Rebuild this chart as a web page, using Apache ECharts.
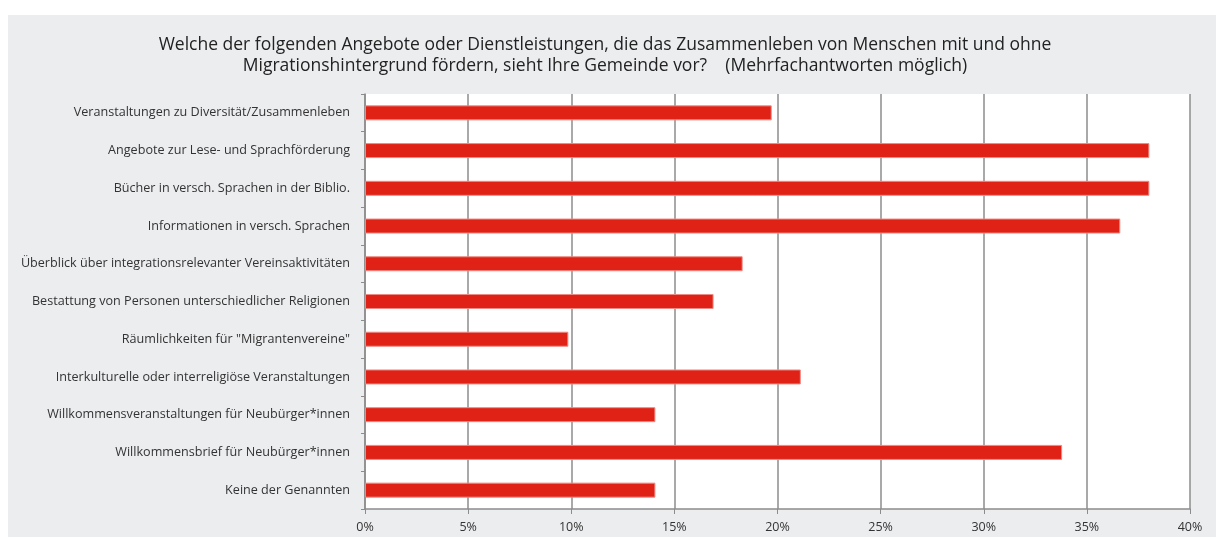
<!DOCTYPE html>
<html>
<head>
<meta charset="utf-8">
<script src="https://cdn.jsdelivr.net/npm/echarts@6/dist/echarts.min.js"></script>
<style>
  html, body { margin: 0; padding: 0; background: #fff; }
  .page { position: relative; width: 1216px; height: 537px; }
  #chart { position: absolute; left: 8px; top: 15px; width: 1208px; height: 522px; background: #ecedef; }
</style>
</head>
<body>
<div class="page"><div id="chart"></div></div>
<script>
const categories = [
  'Veranstaltungen zu Diversität/Zusammenleben',
  'Angebote zur Lese- und Sprachförderung',
  'Bücher in versch. Sprachen in der Biblio.',
  'Informationen in versch. Sprachen',
  'Überblick über integrationsrelevanter Vereinsaktivitäten',
  'Bestattung von Personen unterschiedlicher Religionen',
  'Räumlichkeiten für "Migrantenvereine"',
  'Interkulturelle oder interreligiöse Veranstaltungen',
  'Willkommensveranstaltungen für Neubürger*innen',
  'Willkommensbrief für Neubürger*innen',
  'Keine der Genannten'
]
const shares = [19.72, 38.03, 38.03, 36.62, 18.31, 16.90, 9.86, 21.13, 14.08, 33.80, 14.08]
const titleLines = [
  'Welche der folgenden Angebote oder Dienstleistungen, die das Zusammenleben von Menschen mit und ohne',
  'Migrationshintergrund fördern, sieht Ihre Gemeinde vor?    (Mehrfachantworten möglich)'
]

const font = '"Open Sans", sans-serif'
const chart = echarts.init(document.getElementById('chart'))

chart.setOption({
  animation: false,
  title: {
    text: titleLines.join('\n'),
    left: 592,
    top: 15,
    textAlign: 'center',
    textStyle: {
      fontFamily: font,
      fontSize: 17.5,
      fontWeight: 'normal',
      color: '#222',
      lineHeight: 21
    }
  },
  grid: {
    left: 357,
    top: 79,
    right: 26,
    bottom: 28,
    show: true,
    backgroundColor: '#fff',
    borderWidth: 0
  },
  xAxis: {
    type: 'value',
    min: 0,
    max: 40,
    interval: 5,
    axisLine: { show: true, lineStyle: { color: '#8c8c8c', width: 1.5 } },
    axisTick: { show: true, length: 5, lineStyle: { color: '#8c8c8c' } },
    splitLine: { show: true, lineStyle: { color: '#8c8c8c', width: 1.5 } },
    axisLabel: {
      formatter: '{value}%',
      fontFamily: font,
      fontSize: 12.5,
      color: '#333',
      margin: 12
    }
  },
  yAxis: {
    type: 'category',
    data: categories,
    inverse: true,
    axisLine: { show: true, lineStyle: { color: '#8c8c8c', width: 1.5 } },
    axisTick: { show: true, length: 4, lineStyle: { color: '#8c8c8c' } },
    axisLabel: {
      fontFamily: font,
      fontSize: 12.6,
      color: '#333',
      margin: 15
    }
  },
  series: [{
    type: 'bar',
    data: shares,
    barWidth: 15,
    itemStyle: {
      color: '#e02115',
      borderColor: '#ee8a84',
      borderWidth: 1
    }
  }]
})
</script>
</body>
</html>
